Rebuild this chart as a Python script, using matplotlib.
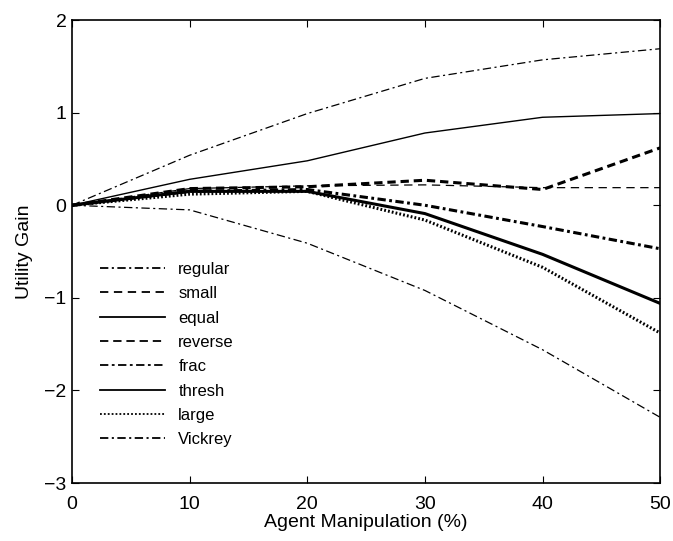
import matplotlib
matplotlib.use("Agg")
import matplotlib.pyplot as plt

x = [0, 10, 20, 30, 40, 50]
regular = [0, 0.54, 0.99, 1.37, 1.57, 1.69]
small = [0, 0.18, 0.21, 0.22, 0.19, 0.19]
equal = [0, 0.28, 0.48, 0.78, 0.95, 0.99]
reverse = [0, 0.18, 0.20, 0.27, 0.17, 0.62]
frac = [0, 0.15, 0.17, 0.0, -0.23, -0.47]
thresh = [0, 0.15, 0.15, -0.09, -0.53, -1.06]
large = [0, 0.12, 0.15, -0.16, -0.67, -1.38]
vickrey = [0, -0.05, -0.41, -0.92, -1.56, -2.29]

plt.rcParams['font.family'] = ['Liberation Sans', 'DejaVu Sans']
plt.rcParams['lines.scale_dashes'] = False  # dash lengths in points

fig = plt.figure(figsize=(6.73, 5.41), dpi=100)
ax = fig.add_axes([0.107, 0.107, 0.874, 0.856])

dashdot = (0, (6, 2.5, 1.5, 2.5))
ax.plot(x, regular, color='black', lw=0.9, linestyle=dashdot, label='regular')
ax.plot(x, small, color='black', lw=0.9, linestyle=(0, (6, 4)), label='small')
ax.plot(x, equal, color='black', lw=1.0, linestyle='-', label='equal')
ax.plot(x, reverse, color='black', lw=2.2, linestyle=(0, (6, 3.5)), label='reverse')
ax.plot(x, frac, color='black', lw=2.2, linestyle=(0, (6, 2.5, 2, 2.5)), label='frac')
ax.plot(x, thresh, color='black', lw=2.2, linestyle='-', label='thresh')
ax.plot(x, large, color='black', lw=2.2, linestyle=(0, (1.3, 1.5)), label='large')
ax.plot(x, vickrey, color='black', lw=0.9, linestyle=dashdot, label='Vickrey')

ax.set_xlim(0, 50)
ax.set_ylim(-3, 2)
ax.set_xticks([0, 10, 20, 30, 40, 50])
ax.set_yticks([-3, -2, -1, 0, 1, 2])
ax.tick_params(direction='in', top=True, right=True, labelsize=14, length=5)
ax.tick_params(axis='x', pad=9)
ax.tick_params(axis='y', pad=4)
for s in ax.spines.values():
    s.set_linewidth(1.2)
ax.set_xlabel('Agent Manipulation (%)', fontsize=14, labelpad=1)
ax.set_ylabel('Utility Gain', fontsize=14, labelpad=8)

leg = ax.legend(loc='lower left', bbox_to_anchor=(0.022, 0.045), frameon=False,
                fontsize=12, handlelength=3.9, handletextpad=0.8, labelspacing=0.56)
# legend samples are drawn thin, as in the original
for h in leg.get_lines():
    h.set_linewidth(1.3)

fig.savefig('out.png', dpi=100)
